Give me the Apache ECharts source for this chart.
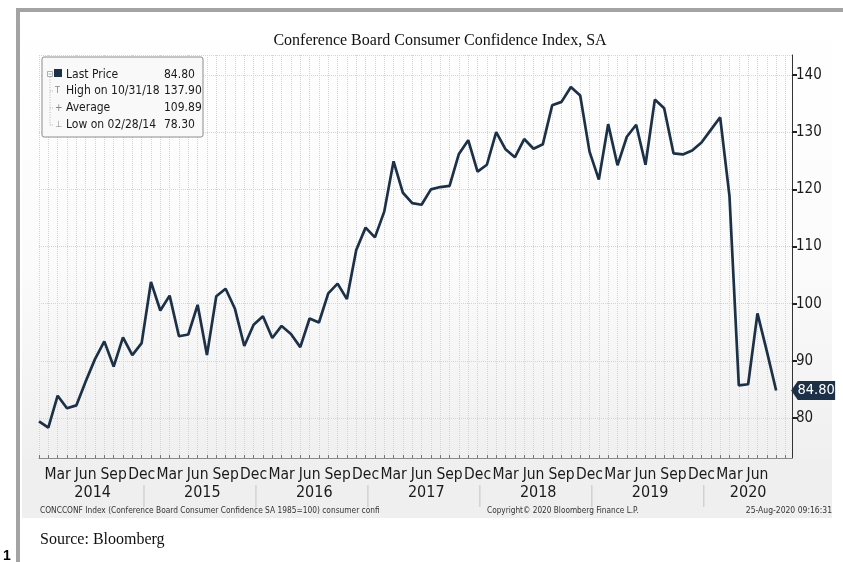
<!DOCTYPE html>
<html>
<head>
<meta charset="utf-8">
<script src="https://cdn.jsdelivr.net/npm/echarts@6/dist/echarts.min.js"></script>
<style>html,body{margin:0;padding:0;background:#fff}#c{width:843px;height:562px}</style>
</head>
<body>
<div id="c"></div>
<script>
// ---------------- data ----------------
const years = [2014, 2015, 2016, 2017, 2018, 2019, 2020];
const monthNames = ['Jan','Feb','Mar','Apr','May','Jun','Jul','Aug','Sep','Oct','Nov','Dec'];
const labelledMonths = ['Mar','Jun','Sep','Dec'];
const yTickValues = [80, 90, 100, 110, 120, 130, 140];

const v2014 = [79.4, 78.3, 83.9, 81.7, 82.2, 86.4, 90.3, 93.4, 89.0, 94.1, 91.0, 93.1];
const v2015 = [103.8, 98.8, 101.4, 94.3, 94.6, 99.8, 91.0, 101.3, 102.6, 99.1, 92.6, 96.3];
const v2016 = [97.8, 94.0, 96.1, 94.7, 92.4, 97.4, 96.7, 101.8, 103.5, 100.8, 109.4, 113.3];
const v2017 = [111.6, 116.1, 124.9, 119.4, 117.6, 117.3, 120.0, 120.4, 120.6, 126.2, 128.6, 123.1];
const v2018 = [124.3, 130.0, 127.0, 125.6, 128.8, 127.1, 127.9, 134.7, 135.3, 137.9, 136.4, 126.6];
const v2019 = [121.7, 131.4, 124.2, 129.2, 131.3, 124.3, 135.7, 134.2, 126.3, 126.1, 126.8, 128.2];
const v2020 = [130.4, 132.6, 118.8, 85.7, 85.9, 98.3, 91.7, 84.8];

const titleText = 'Conference Board Consumer Confidence Index, SA';
const footLeft = 'CONCCONF Index (Conference Board Consumer Confidence SA 1985=100) consumer confi';
const footMid = 'Copyright\u00a9 2020 Bloomberg Finance L.P.';
const footRight = '25-Aug-2020 09:16:31';
const sourceText = 'Source: Bloomberg';

// ---------------- derived ----------------
const values = [].concat(v2014, v2015, v2016, v2017, v2018, v2019, v2020);
const categories = values.map((_, i) => monthNames[i % 12] + ' ' + years[Math.floor(i / 12)]);
const points = values.map((v, i) => [i, v]);
const N = values.length;
const X_MAX = 80.7;

const last = values[N - 1];
let hiI = 0, loI = 0, sum = 0;
values.forEach((v, i) => { if (v > values[hiI]) hiI = i; if (v < values[loI]) loI = i; sum += v; });
const avg = sum / N;
function monthEnd(i) {
  const y = years[Math.floor(i / 12)], m = i % 12;
  const d = new Date(y, m + 1, 0).getDate();
  const p = n => (n < 10 ? '0' : '') + n;
  return p(m + 1) + '/' + p(d) + '/' + String(y).slice(2);
}

const yearCentres = years.map((y, k) => {
  const s = Math.max(0, k * 12 - 0.5), e = Math.min(X_MAX, k * 12 + 11.5);
  return Math.round((s + e) / 2 * 4) / 4;
});
const separators = years.slice(1).map((y, k) => (k + 1) * 12 - 0.75);

const NAVY = '#1c3047';
const NARROW = "'Liberation Sans Narrow','DejaVu Sans Condensed','Arial Narrow',sans-serif";
const SERIF = "'Liberation Serif','DejaVu Serif',serif";

const chart = echarts.init(document.getElementById('c'), null, {renderer: 'canvas', width: 843, height: 562});

function t(text, x, y, size, opts) {
  return Object.assign({
    type: 'text', x: x, y: y, z: 20, silent: true,
    style: Object.assign({text: text, fill: '#1a1a1a', fontSize: size, fontFamily: NARROW, align: 'left', verticalAlign: 'middle'}, (opts && opts.style) || {})
  }, (opts && opts.el) || {});
}

const legendRows = [
  {y: 75, label: 'Last Price', val: last.toFixed(2)},
  {y: 91, label: 'High on ' + monthEnd(hiI), val: values[hiI].toFixed(2)},
  {y: 108, label: 'Average', val: avg.toFixed(2)},
  {y: 125, label: 'Low on ' + monthEnd(loI), val: values[loI].toFixed(2)}
];
const legendEls = [
  {type: 'rect', z: 19, silent: true, shape: {x: 42, y: 57, width: 161, height: 80, r: 2}, style: {fill: '#f9f9f9', stroke: '#8c8c8c', lineWidth: 1}},
  {type: 'rect', z: 20, silent: true, shape: {x: 47.5, y: 71.5, width: 5, height: 5}, style: {fill: '#fff', stroke: '#999', lineWidth: 0.8}},
  {type: 'line', z: 20, silent: true, shape: {x1: 48.5, y1: 74, x2: 51.5, y2: 74}, style: {stroke: '#999', lineWidth: 0.8}},
  {type: 'rect', z: 20, silent: true, shape: {x: 54, y: 69, width: 8, height: 8}, style: {fill: NAVY}},
  {type: 'line', z: 20, silent: true, shape: {x1: 50, y1: 77, x2: 50, y2: 125}, style: {stroke: '#aaa', lineWidth: 0.8, lineDash: [1, 1.5]}},
  {type: 'line', z: 20, silent: true, shape: {x1: 50, y1: 91, x2: 54, y2: 91}, style: {stroke: '#aaa', lineWidth: 0.8, lineDash: [1, 1]}},
  {type: 'line', z: 20, silent: true, shape: {x1: 50, y1: 108, x2: 54, y2: 108}, style: {stroke: '#aaa', lineWidth: 0.8, lineDash: [1, 1]}},
  {type: 'line', z: 20, silent: true, shape: {x1: 50, y1: 125, x2: 54, y2: 125}, style: {stroke: '#aaa', lineWidth: 0.8, lineDash: [1, 1]}},
  t('T', 55, 91, 9, {style: {fill: '#888'}}),
  t('+', 55, 108, 10, {style: {fill: '#888'}}),
  t('\u22a5', 55, 125, 9, {style: {fill: '#888'}})
];
legendRows.forEach(r => {
  legendEls.push(t(r.label, 66, r.y, 12));
  legendEls.push(t(r.val, 164, r.y, 12));
});

const option = {
  backgroundColor: '#ffffff',
  animation: false,
  title: {
    text: titleText, left: 435, top: 28, textAlign: 'center',
    textStyle: {fontFamily: SERIF, fontSize: 16, fontWeight: 'normal', color: '#111'}
  },
  grid: {left: 39, right: 51, top: 55, bottom: 104, containLabel: false},
  xAxis: [
    {
      type: 'value', min: 0, max: X_MAX, interval: 1, z: 1,
      axisLine: {show: true, onZero: false, lineStyle: {color: '#8a8a8a', width: 1}},
      axisTick: {show: true, inside: true, length: 3, lineStyle: {color: '#777'}},
      splitLine: {show: true, lineStyle: {color: '#d4d4d4', type: 'dotted', width: 1}},
      axisLabel: {
        show: true, margin: 9, fontSize: 15.5, fontFamily: NARROW, color: '#1a1a1a',
        showMinLabel: true, showMaxLabel: false,
        formatter: v => {
          const i = Math.round(v);
          if (Math.abs(v - i) > 1e-6 || i >= N) return '';
          const m = categories[i].split(' ')[0];
          return labelledMonths.indexOf(m) >= 0 ? m : '';
        }
      }
    },
    {
      type: 'value', min: 0, max: X_MAX, interval: 0.25, position: 'bottom', z: 1,
      axisLine: {show: false, onZero: false}, axisTick: {show: false}, splitLine: {show: false},
      axisLabel: {
        show: true, margin: 27, fontSize: 16, fontFamily: NARROW, color: '#1a1a1a',
        showMinLabel: true, showMaxLabel: false,
        formatter: v => {
          for (let k = 0; k < years.length; k++) if (Math.abs(v - yearCentres[k]) < 1e-6) return String(years[k]);
          for (let k = 0; k < separators.length; k++) if (Math.abs(v - separators[k]) < 1e-6) return '{s| }';
          return '';
        },
        rich: {s: {width: 1, height: 22, backgroundColor: '#c4c4c4'}}
      }
    }
  ],
  yAxis: {
    type: 'value', position: 'right', min: 73, max: 143.5, z: 1,
    axisLine: {show: true, onZero: false, lineStyle: {color: '#333', width: 1}},
    axisTick: {show: true, length: 5, lineStyle: {color: '#222', width: 2}},
    splitLine: {show: true, lineStyle: {color: '#d4d4d4', type: 'dotted', width: 1}},
    axisLabel: {
      margin: 4, fontSize: 15, fontFamily: NARROW, color: '#1a1a1a',
      showMinLabel: false, showMaxLabel: false,
      formatter: v => (yTickValues.indexOf(v) >= 0 ? String(v) : '')
    }
  },
  series: [{
    type: 'line', data: points, xAxisIndex: 0, yAxisIndex: 0,
    showSymbol: false, symbol: 'none', z: 10,
    lineStyle: {color: NAVY, width: 2.7},
    markPoint: {
      silent: true, animation: false,
      data: [{coord: points[N - 1], value: last}],
      symbol: 'path://M0,10L7,0L46,0L46,20L7,20Z',
      symbolSize: [44, 19], symbolOffset: [37, 0], symbolKeepAspect: false,
      itemStyle: {color: NAVY},
      label: {show: true, color: '#fff', fontSize: 14.5, fontFamily: NARROW, offset: [3, 0], formatter: () => last.toFixed(2)}
    }
  }],
  graphic: [
    {type: 'rect', z: -10, silent: true, shape: {x: 22, y: 13, width: 810, height: 505},
     style: {fill: new echarts.graphic.LinearGradient(0, 0, 0, 1, [{offset: 0, color: '#ffffff'}, {offset: 0.5, color: '#fbfbfb'}, {offset: 1, color: '#ececec'}])}},
    {type: 'rect', z: -9, silent: true, shape: {x: 22, y: 459, width: 810, height: 59}, style: {fill: '#efefef'}},
    {type: 'rect', z: 30, silent: true, shape: {x: 16, y: 8, width: 4, height: 554}, style: {fill: '#a3a3a3'}},
    {type: 'rect', z: 30, silent: true, shape: {x: 16, y: 8, width: 827, height: 4}, style: {fill: '#a3a3a3'}},
    t(footLeft, 40, 511, 8.3, {style: {fill: '#333'}}),
    t(footMid, 487, 511, 8.2, {style: {fill: '#333'}}),
    t(footRight, 832, 511, 8.5, {style: {fill: '#333', align: 'right'}}),
    t(sourceText, 40, 540, 16, {style: {fontFamily: SERIF, fill: '#111'}}),
    t('1', 3, 556, 14, {style: {fontFamily: "'Liberation Sans',sans-serif", fontWeight: 'bold', fill: '#000'}})
  ].concat(legendEls)
};
chart.setOption(option);
</script>
</body>
</html>
